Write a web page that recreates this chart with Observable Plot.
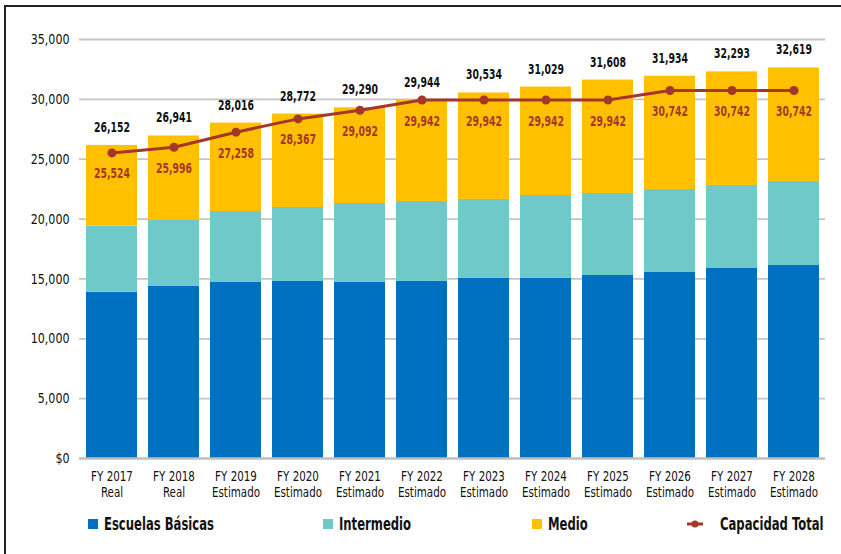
<!DOCTYPE html>
<html>
<head>
<meta charset="utf-8">
<script src="https://cdn.jsdelivr.net/npm/d3@7"></script>
<script src="https://cdn.jsdelivr.net/npm/@observablehq/plot@0.6"></script>
<style>
  html, body { margin: 0; padding: 0; background: #fff; }
  body { width: 841px; height: 554px; position: relative; overflow: hidden;
         font-family: "DejaVu Sans Condensed", "DejaVu Sans", sans-serif; }
  #frame { position: absolute; left: 4px; top: 5px; width: 860px; height: 600px;
           border-left: 2px solid #222; border-top: 2px solid #222; }
  #chart { position: absolute; left: 0; top: 0; }
  .leg { position: absolute; top: 514px; font-weight: bold; font-size: 17px; color: #111;
         display: flex; align-items: center; white-space: nowrap; height: 20px; }
  .sw { width: 10px; height: 10px; margin-right: 6px; flex: none; }
  .lt { display: inline-block; transform: scaleX(0.76); transform-origin: 0 50%; }
</style>
</head>
<body>
<div id="frame"></div>
<div id="chart"></div>
<div class="leg" style="left:88px"><div class="sw" style="background:#0070c0"></div><span class="lt">Escuelas Básicas</span></div>
<div class="leg" style="left:323px"><div class="sw" style="background:#70c9c9"></div><span class="lt">Intermedio</span></div>
<div class="leg" style="left:532px"><div class="sw" style="background:#ffc000"></div><span class="lt">Medio</span></div>
<div class="leg" style="left:686px">
  <svg width="34" height="12" style="flex:none"><line x1="1" y1="6" x2="17" y2="6" stroke="#a5372a" stroke-width="3"/><circle cx="9" cy="6" r="3.5" fill="#a5372a"/></svg><span class="lt">Capacidad Total</span></div>
<script>
const categories = ["FY 2017\nReal", "FY 2018\nReal", "FY 2019\nEstimado", "FY 2020\nEstimado",
  "FY 2021\nEstimado", "FY 2022\nEstimado", "FY 2023\nEstimado", "FY 2024\nEstimado",
  "FY 2025\nEstimado", "FY 2026\nEstimado", "FY 2027\nEstimado", "FY 2028\nEstimado"];
const escuelasBasicas = [13890, 14370, 14700, 14790, 14700, 14790, 15040, 15040, 15290, 15540, 15870, 16120];
const intermedio = [5520, 5540, 5930, 6180, 6600, 6680, 6600, 6930, 6850, 6930, 6940, 7020];
const medio = [6742, 7031, 7386, 7802, 7990, 8474, 8894, 9059, 9468, 9464, 9483, 9479];
const totales = [26152, 26941, 28016, 28772, 29290, 29944, 30534, 31029, 31608, 31934, 32293, 32619];
const capacidadTotal = [25524, 25996, 27258, 28367, 29092, 29942, 29942, 29942, 29942, 30742, 30742, 30742];
const yTicks = [0, 5000, 10000, 15000, 20000, 25000, 30000, 35000];

const seriesNames = ["Escuelas Básicas", "Intermedio", "Medio"];
const seriesColors = ["#0070c0", "#70c9c9", "#ffc000"];
const seriesValues = [escuelasBasicas, intermedio, medio];

const stacked = [];
seriesNames.forEach((s, si) => categories.forEach((c, i) =>
  stacked.push({cat: c, serie: s, value: seriesValues[si][i]})));
const points = categories.map((c, i) => ({cat: c, total: totales[i], cap: capacidadTotal[i]}));

const fmt = d3.format(",");
const font = getComputedStyle(document.body).fontFamily;

const chart = Plot.plot({
  width: 841,
  height: 505,
  marginLeft: 79,
  marginRight: 16,
  marginTop: 39,
  marginBottom: 47,
  style: {fontFamily: font, background: "transparent"},
  x: {domain: categories, paddingInner: 0.18, paddingOuter: 0.09, label: null},
  y: {domain: [0, 35000], label: null},
  color: {domain: seriesNames, range: seriesColors},
  marks: [
    Plot.ruleY(yTicks.filter(d => d > 0), {stroke: "#c4c4c4", strokeWidth: 1.8}),
    Plot.axisY({ticks: yTicks, tickSize: 0, tickPadding: 10, fontSize: 14.5,
      tickFormat: d => d === 0 ? "$0" : fmt(d), label: null, fill: "#111"}),
    Plot.axisX({tickSize: 0, tickPadding: 12, fontSize: 14, lineHeight: 1.1, label: null, fill: "#111"}),
    Plot.barY(stacked, {x: "cat", y: "value", fill: "serie", order: null}),
    Plot.ruleY([0], {stroke: "#bfbfbf", strokeWidth: 2.5}),
    Plot.line(points, {x: "cat", y: "cap", stroke: "#a5372a", strokeWidth: 3}),
    Plot.dot(points, {x: "cat", y: "cap", r: 4.5, fill: "#a5372a"}),
    Plot.text(points, {x: "cat", y: "total", text: d => fmt(d.total), dy: -18,
      fontWeight: "bold", fontSize: 14, fill: "#111"}),
    Plot.text(points, {x: "cat", y: "cap", text: d => fmt(d.cap), dy: 21,
      fontWeight: "bold", fontSize: 14, fill: "#a5372a"})
  ]
});
document.getElementById("chart").appendChild(chart);

// condense text horizontally (scale about each text's anchor) to mimic a condensed typeface
chart.querySelectorAll("text").forEach(t => {
  const g = t.closest("g[aria-label]");
  const lab = g ? g.getAttribute("aria-label") : "";
  let r = 0.74;
  if (lab.startsWith("y-axis")) r = 0.85;
  else if (lab.startsWith("x-axis")) r = 0.82;
  const x = parseFloat(t.getAttribute("x") || "0");
  const tr = t.getAttribute("transform") || "";
  t.setAttribute("transform", `${tr} translate(${x},0) scale(${r},1) translate(${-x},0)`.trim());
});
</script>
</body>
</html>
